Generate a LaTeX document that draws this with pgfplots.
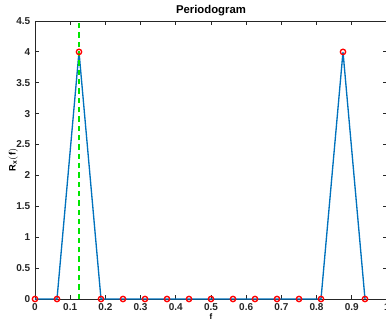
\documentclass[border=0pt]{standalone}
\usepackage{pgfplots}
\pgfplotsset{compat=1.18}
\usepackage{fontspec}
\setmainfont{Liberation Sans}
\usetikzlibrary{calc}
\definecolor{mblue}{rgb}{0,0.447,0.741}
\definecolor{axgray}{rgb}{0.15,0.15,0.15}
\begin{document}
\begin{tikzpicture}
\begin{axis}[
  scale only axis,
  width=264pt, height=208.5pt,
  xmin=0, xmax=1, ymin=0, ymax=4.5,
  xtick={0,0.1,0.2,0.3,0.4,0.5,0.6,0.7,0.8,0.9,1},
  xticklabels={0,0.1,0.2,0.3,0.4,0.5,0.6,0.7,0.8,0.9,1},
  ytick={0,0.5,1,1.5,2,2.5,3,3.5,4,4.5},
  yticklabels={0,0.5,1,1.5,2,2.5,3,3.5,4,4.5},
  tick align=inside,
  major tick length=3pt,
  axis line style={axgray, line width=0.6pt},
  tick style={axgray, line width=0.6pt},
  ticklabel style={font=\fontsize{7.5}{9}\selectfont\bfseries, text=axgray},
  title={Periodogram},
  title style={font=\fontsize{8.5}{10}\selectfont\bfseries, yshift=-6pt},
  xlabel={f},
  xlabel style={font=\fontsize{6}{7}\selectfont\bfseries, yshift=5pt},
  ylabel={$\mathbf{R_x(f)}$},
  ylabel style={font=\fontsize{7}{8}\selectfont\bfseries, yshift=-8pt},
  clip=false,
]
\addplot[mblue, line width=1pt, mark=o, mark size=2pt, mark options={red, line width=1pt}] coordinates {
(0,0) (0.0625,0) (0.125,4) (0.1875,0) (0.25,0) (0.3125,0) (0.375,0) (0.4375,0)
(0.5,0) (0.5625,0) (0.625,0) (0.6875,0) (0.75,0) (0.8125,0) (0.875,4) (0.9375,0)
};
\addplot[color={rgb,1:red,0;green,0.9;blue,0}, dashed, line width=1pt, dash pattern=on 4pt off 3pt] coordinates {(0.125,0) (0.125,4.5)};
\end{axis}
\pgfresetboundingbox
\path ($(current axis.south west)+(-26.25pt,-15.75pt)$) rectangle ($(current axis.north east)+(-0.75pt,15.75pt)$);
\end{tikzpicture}
\end{document}
